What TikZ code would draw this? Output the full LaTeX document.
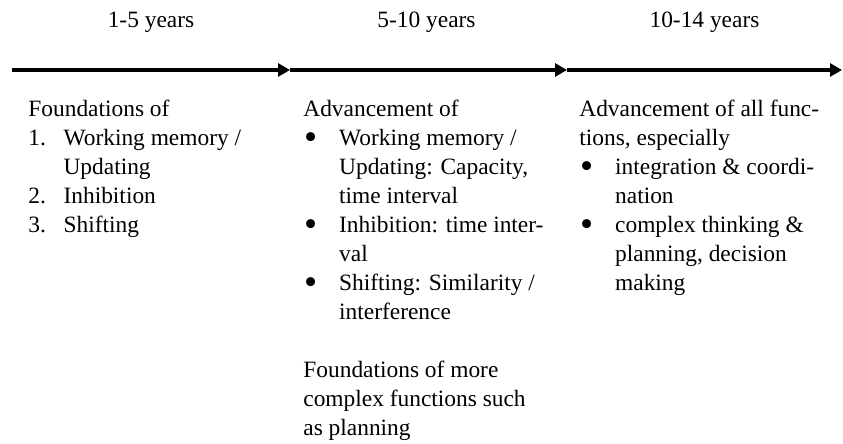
\documentclass[tikz,border=0pt]{standalone}
\usepackage{fontspec}
\setmainfont{Liberation Serif}
\usetikzlibrary{arrows.meta,positioning}
\newcommand\numit[1]{\makebox[17.6pt][l]{#1}}
\newcommand\bulit{\makebox[17.9pt][l]{\hspace{0.4pt}\raisebox{-1.6pt}{\scalebox{1.6}{\textbullet}}}}
\newcommand\hang{\hspace*{17.6pt}}
\newcommand\hangb{\hspace*{17.9pt}}

\begin{document}
\begin{tikzpicture}[x=0.5pt,y=-0.5pt,
        timeline/.style={line width=1.75pt,-{Triangle[length=6pt,width=6.5pt]}},
        yrlabel/.style={anchor=base,yshift=21pt,inner sep=0pt,font=\fontsize{11.7pt}{14.5pt}\selectfont},
        coltext/.style={anchor=north west,align=left,inner sep=0pt,font=\fontsize{11.7pt}{14.5pt}\selectfont}]
    \useasboundingbox (0,0) rectangle (843,444);
    % time axis
    \coordinate (t0) at (12,70);
    \coordinate (t1) at (290,70);
    \coordinate (t2) at (567,70);
    \coordinate (t3) at (842,70);
    \draw[timeline] (t0) -- (t1);
    \draw[timeline] (t1) -- (t2);
    \draw[timeline] (t2) -- (t3);
    \path (t0) -- node[yrlabel] (y1) {1-5 years} (t1);
    \path (t1) -- node[yrlabel,xshift=-1pt] (y2) {5-10 years} (t2);
    \path (t2) -- node[yrlabel] (y3) {10-14 years} (t3);
    % columns
    \node[coltext] (c1) at (28,100) {Foundations of\\
        \numit{1.}Working memory /\\
        \hang Updating\\
        \numit{2.}Inhibition\\
        \numit{3.}Shifting};
    \node[coltext] (c2) at (303,100) {Advancement of\\
        \bulit Working memory /\\
        \hangb Updating: Capacity,\\
        \hangb time interval\\
        \bulit Inhibition: time inter-\\
        \hangb val\\
        \bulit Shifting: Similarity /\\
        \hangb interference\\[14.5pt]
        Foundations of more\\
        complex functions such\\
        as planning};
    \node[coltext] (c3) at (579,100) {Advancement of all func-\\
        tions, especially\\
        \bulit integration \& coordi-\\
        \hangb nation\\
        \bulit complex thinking \&\\
        \hangb planning, decision\\
        \hangb making};
\end{tikzpicture}
\end{document}
